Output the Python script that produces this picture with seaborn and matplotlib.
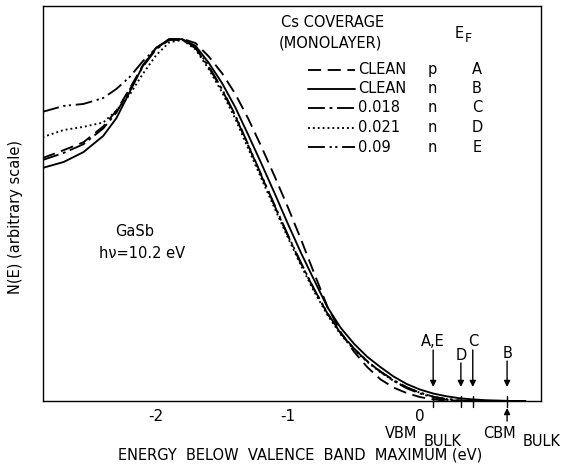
import matplotlib
matplotlib.use("Agg")
import matplotlib.pyplot as plt
import seaborn as sns
import pandas as pd

# ---------------- data ----------------
energy = [-2.86, -2.7, -2.55, -2.4, -2.3, -2.2, -2.1, -2.0, -1.9, -1.8, -1.7, -1.6,
          -1.5, -1.4, -1.3, -1.2, -1.1, -1.0, -0.9, -0.8, -0.7, -0.6, -0.5, -0.4,
          -0.3, -0.2, -0.1, 0.0, 0.1, 0.2, 0.3, 0.4, 0.5, 0.6, 0.7, 0.8]

clean_p = [0.615, 0.635, 0.655, 0.695, 0.735, 0.790, 0.850, 0.893, 0.916, 0.917, 0.906, 0.872,
           0.830, 0.778, 0.714, 0.643, 0.568, 0.490, 0.408, 0.322, 0.238, 0.174, 0.125, 0.086,
           0.055, 0.034, 0.020, 0.010, 0.004, 0.001, 0.0, 0.0, 0.0, 0.0, 0.0, 0.0]
clean_n = [0.590, 0.605, 0.630, 0.671, 0.716, 0.782, 0.848, 0.894, 0.916, 0.916, 0.899, 0.856,
           0.805, 0.744, 0.673, 0.600, 0.525, 0.448, 0.374, 0.305, 0.237, 0.185, 0.145, 0.112,
           0.086, 0.062, 0.043, 0.029, 0.019, 0.012, 0.007, 0.004, 0.002, 0.001, 0.0, 0.0]
cs_0018 = [0.610, 0.628, 0.650, 0.690, 0.730, 0.788, 0.846, 0.890, 0.914, 0.914, 0.893, 0.845,
           0.788, 0.722, 0.646, 0.569, 0.493, 0.418, 0.347, 0.281, 0.221, 0.171, 0.132, 0.101,
           0.075, 0.053, 0.035, 0.021, 0.011, 0.005, 0.002, 0.0, 0.0, 0.0, 0.0, 0.0]
cs_0021 = [0.668, 0.686, 0.694, 0.705, 0.735, 0.775, 0.828, 0.875, 0.908, 0.914, 0.890, 0.840,
           0.782, 0.715, 0.638, 0.562, 0.487, 0.413, 0.342, 0.276, 0.217, 0.168, 0.130, 0.099,
           0.073, 0.051, 0.034, 0.021, 0.011, 0.005, 0.001, 0.0, 0.0, 0.0, 0.0, 0.0]
cs_009 = [0.732, 0.747, 0.752, 0.767, 0.790, 0.820, 0.860, 0.893, 0.915, 0.915, 0.895, 0.848,
          0.790, 0.724, 0.648, 0.571, 0.495, 0.420, 0.349, 0.282, 0.222, 0.172, 0.133, 0.101,
          0.074, 0.051, 0.032, 0.019, 0.009, 0.003, 0.0, 0.0, 0.0, 0.0, 0.0, 0.0]

coverage_labels = ["CLEAN", "CLEAN", "0.018", "0.021", "0.09"]
type_labels = ["p", "n", "n", "n", "n"]
ef_letters = ["A", "B", "C", "D", "E"]

ef_marker_labels = ["A,E", "D", "C", "B"]
ef_marker_pos = [0.10, 0.31, 0.40, 0.66]
vbm_pos = 0.0
cbm_pos = 0.66

x_ticks = [-2, -1, 0]
x_tick_labels = ["-2", "-1", "0"]

# ---------------- style ----------------
sns.set_style("white")
plt.rcParams['font.family'] = ['DejaVu Sans']
plt.rcParams['axes.linewidth'] = 1.0
plt.rcParams['text.color'] = 'black'
plt.rcParams['xtick.color'] = 'black'
plt.rcParams['axes.labelcolor'] = 'black'

series = [clean_p, clean_n, cs_0018, cs_0021, cs_009]
styles = [(0, (7, 3.5)), '-', (0, (9, 2.5, 1.5, 2.5)), (0, (1, 1.6)),
          (0, (9, 2.5, 1.2, 1.8, 1.2, 2.5))]

rows = []
for lbl, vals in zip(ef_letters, series):
    for e, v in zip(energy, vals):
        rows.append({"energy": e, "N": v, "curve": lbl})
df = pd.DataFrame(rows)

fig = plt.figure(figsize=(5.63, 4.70), dpi=100)
ax = fig.add_axes([43/563, (470-401)/470, 498/563, 395/470])

for lbl, ls in zip(ef_letters, styles):
    sns.lineplot(data=df[df.curve == lbl], x="energy", y="N", ax=ax,
                 color="black", linewidth=1.35, linestyle=ls, legend=False)

ax.set_xlim(-2.856, 0.917)
ax.set_ylim(0, 1)
ax.set_xticks(x_ticks)
ax.set_xticklabels(x_tick_labels, fontsize=11, color="black")
ax.set_yticks([])
ax.tick_params(axis='x', direction='in', length=6, width=1, pad=6, colors="black")
ax.set_xlabel("")
ax.set_ylabel("")
for s in ax.spines.values():
    s.set_color("black")

TXT = dict(fontsize=10.5, color="black")

# axis labels
fig.text(300/563, 1 - 455/470, "ENERGY  BELOW  VALENCE  BAND  MAXIMUM (eV)",
         ha="center", va="center", **TXT)
fig.text(16/563, 1 - 217/470, "N(E) (arbitrary scale)", rotation=90,
         ha="center", va="center", **TXT)

# sample text
ax.text((135-43)/498, (401-232)/395, "GaSb", transform=ax.transAxes,
        ha="center", va="center", **TXT)
ax.text((142-43)/498, (401-253)/395, "h\u03bd=10.2 eV", transform=ax.transAxes,
        ha="center", va="center", **TXT)

# legend (manual)
def ax_xy(px, py):
    return (px - 43) / 498, (401 - py) / 395

x0, y0 = ax_xy(281, 23)
ax.text(x0, y0, "Cs COVERAGE", transform=ax.transAxes, ha="left", va="center", **TXT)
x0, y0 = ax_xy(279, 43)
ax.text(x0, y0, "(MONOLAYER)", transform=ax.transAxes, ha="left", va="center", **TXT)
x0, y0 = ax_xy(455, 34)
ax.text(x0, y0, "E", transform=ax.transAxes, ha="left", va="center", **TXT)
x0, y0 = ax_xy(465, 39)
ax.text(x0, y0, "F", transform=ax.transAxes, ha="left", va="center", fontsize=9, color="black")

row_y = [70, 89, 108, 128, 147]
for ry, ls, cov, typ, let in zip(row_y, styles, coverage_labels, type_labels, ef_letters):
    xa, ya = ax_xy(308, ry)
    xb, _ = ax_xy(355, ry)
    ax.plot([xa, xb], [ya, ya], transform=ax.transAxes, color="black",
            linewidth=1.35, linestyle=ls)
    xt, _ = ax_xy(358, ry)
    ax.text(xt, ya, cov, transform=ax.transAxes, ha="left", va="center", **TXT)
    xt, _ = ax_xy(432, ry)
    ax.text(xt, ya, typ, transform=ax.transAxes, ha="center", va="center", **TXT)
    xt, _ = ax_xy(477, ry)
    ax.text(xt, ya, let, transform=ax.transAxes, ha="center", va="center", **TXT)

# Fermi level markers
label_y = {"A,E": 342, "D": 355, "C": 342, "B": 353}
for lab, pos in zip(ef_marker_labels, ef_marker_pos):
    ty = label_y[lab]
    ax.annotate("", xy=(pos, (401-387)/395), xytext=(pos, (401-(ty+8))/395),
                xycoords=("data", "axes fraction"),
                arrowprops=dict(arrowstyle="-|>", color="black", lw=1.0,
                                mutation_scale=9, shrinkA=0, shrinkB=0))
    ax.text(pos, (401-ty)/395, lab, transform=ax.get_xaxis_transform(),
            ha="center", va="center", **TXT)
    ax.plot([pos, pos], [(401-396)/395, (401-407)/395], transform=ax.get_xaxis_transform(),
            color="black", lw=1.0, clip_on=False)

# CBM up arrow
ax.annotate("", xy=(cbm_pos, (401-408)/395), xytext=(cbm_pos, (401-421)/395),
            xycoords=("data", "axes fraction"),
            arrowprops=dict(arrowstyle="-|>", color="black", lw=1.0,
                            mutation_scale=9, shrinkA=0, shrinkB=0),
            annotation_clip=False)

# VBM / CBM bulk labels
tr = ax.get_xaxis_transform()
ax.text(vbm_pos - 0.02, (401-433)/395, "VBM", transform=tr, ha="right", va="center", **TXT)
ax.text(vbm_pos + 0.03, (401-441)/395, "BULK", transform=tr, ha="left", va="center", **TXT)
ax.text(cbm_pos - 0.18, (401-433)/395, "CBM", transform=tr, ha="left", va="center", **TXT)
ax.text(cbm_pos + 0.12, (401-441)/395, "BULK", transform=tr, ha="left", va="center", **TXT)

fig.savefig("out.png", dpi=100)
